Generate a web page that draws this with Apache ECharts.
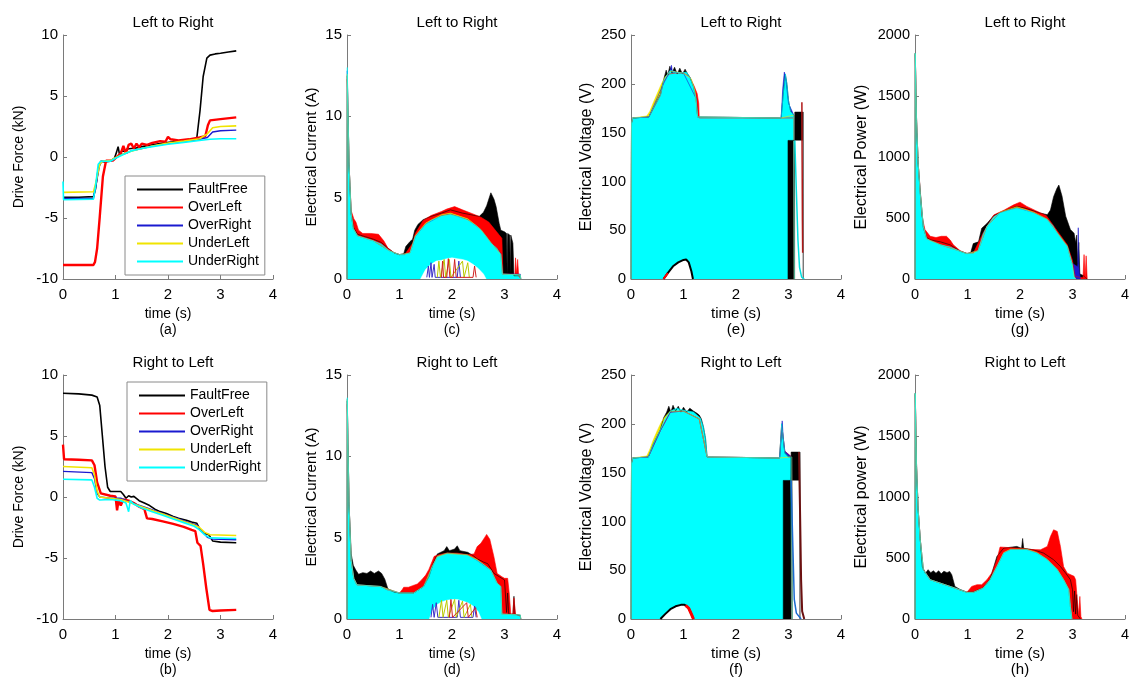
<!DOCTYPE html>
<html>
<head>
<meta charset="utf-8">
<script src="https://cdn.jsdelivr.net/npm/echarts@6/dist/echarts.min.js"></script>
<style>
html, body { margin: 0; padding: 0; background: #fff; }
#chart { width: 1134px; height: 682px; }
</style>
</head>
<body>
<div id="chart"></div>
<script>
// panel text (order: a c e g / b d f h)
const panelTitles = ['Left to Right', 'Left to Right', 'Left to Right', 'Left to Right',
                     'Right to Left', 'Right to Left', 'Right to Left', 'Right to Left'];
const subLabels = ['(a)', '(c)', '(e)', '(g)', '(b)', '(d)', '(f)', '(h)'];
const yNames = ['Drive Force (kN)', 'Electrical Current (A)', 'Electrical Voltage (V)', 'Electrical Power (W)',
                'Drive Force (kN)', 'Electrical Current (A)', 'Electrical Voltage (V)', 'Electrical power (W)'];
const yMin = [-10, 0, 0, 0, -10, 0, 0, 0];
const yMax = [10, 15, 250, 2000, 10, 15, 250, 2000];
const yStep = [5, 5, 50, 500, 5, 5, 50, 500];
const timeMax = 4;
const timeStep = 1;
const faultNames = ['FaultFree', 'OverLeft', 'OverRight', 'UnderLeft', 'UnderRight'];

// (a) drive force, left to right
const forceLR_FaultFree = [[0,-3.3],[0.3,-3.3],[0.58,-3.25],[0.62,-2.6],[0.67,-1.0],[0.72,-0.35],[0.8,-0.4],[0.9,-0.35],[0.98,-0.1],[1.02,0.4],[1.05,0.85],[1.08,0.1],[1.12,0.5],[1.18,0.45],[1.22,0.65],[1.3,0.7],[1.4,0.75],[1.5,0.85],[1.7,1.0],[1.9,1.15],[2.1,1.25],[2.3,1.35],[2.5,1.45],[2.55,1.6],[2.61,3.8],[2.67,6.6],[2.74,8.1],[2.8,8.35],[2.9,8.45],[3.0,8.5],[3.15,8.6],[3.3,8.7]];
const forceLR_OverLeft = [[0,-8.85],[0.3,-8.85],[0.58,-8.85],[0.61,-8.6],[0.65,-7.5],[0.7,-4.9],[0.76,-1.6],[0.82,-0.3],[0.95,-0.3],[1.0,-0.1],[1.1,0.3],[1.15,0.9],[1.2,0.3],[1.25,1.0],[1.3,1.1],[1.35,0.7],[1.4,1.1],[1.45,0.8],[1.5,1.1],[1.6,1.0],[1.7,1.15],[1.85,1.3],[1.95,1.25],[2.0,1.65],[2.05,1.45],[2.2,1.35],[2.4,1.45],[2.6,1.6],[2.71,1.7],[2.76,2.6],[2.8,3.0],[3.0,3.1],[3.3,3.25]];
const forceLR_OverRight = [[0,-3.4],[0.58,-3.4],[0.62,-2.5],[0.7,-0.6],[0.75,-0.35],[0.9,-0.35],[1.0,-0.1],[1.1,0.2],[1.2,0.3],[1.3,0.5],[1.5,0.7],[1.7,0.9],[2.0,1.1],[2.3,1.25],[2.6,1.45],[2.75,1.6],[2.85,2.05],[3.0,2.15],[3.3,2.2]];
const forceLR_UnderLeft = [[0,-2.9],[0.58,-2.85],[0.62,-2.2],[0.7,-0.6],[0.75,-0.35],[0.9,-0.3],[1.0,-0.05],[1.2,0.35],[1.4,0.6],[1.7,0.9],[2.0,1.15],[2.3,1.3],[2.6,1.5],[2.75,1.9],[2.85,2.4],[3.0,2.5],[3.3,2.55]];
const forceLR_UnderRight = [[0,-2.0],[0.01,-3.5],[0.58,-3.45],[0.62,-2.4],[0.67,-0.6],[0.72,-0.35],[0.9,-0.35],[1.0,-0.1],[1.1,0.1],[1.2,0.3],[1.3,0.5],[1.5,0.7],[1.7,0.85],[2.0,1.05],[2.3,1.2],[2.6,1.35],[2.8,1.45],[3.0,1.5],[3.3,1.5]];

// (b) drive force, right to left
const forceRL_FaultFree = [[0,8.5],[0.3,8.45],[0.55,8.35],[0.65,8.2],[0.7,7.5],[0.75,5.0],[0.8,2.5],[0.85,0.8],[0.9,0.45],[1.1,0.45],[1.15,0.2],[1.2,-0.1],[1.25,0.1],[1.3,0.0],[1.35,0.05],[1.45,-0.3],[1.55,-0.5],[1.65,-0.7],[1.75,-1.0],[1.85,-1.2],[1.97,-1.35],[2.1,-1.6],[2.2,-1.75],[2.35,-1.9],[2.45,-2.05],[2.55,-2.15],[2.61,-2.7],[2.7,-3.0],[2.78,-3.1],[2.85,-3.6],[3.0,-3.7],[3.3,-3.75]];
const forceRL_OverLeft = [[0,4.3],[0.02,3.1],[0.3,3.05],[0.55,3.0],[0.6,2.6],[0.65,1.2],[0.72,0.3],[0.9,0.1],[1.0,0.05],[1.03,-1.1],[1.06,-0.2],[1.1,-0.7],[1.15,-0.2],[1.25,-0.3],[1.35,-0.5],[1.45,-0.8],[1.55,-1.0],[1.6,-1.75],[1.7,-1.8],[1.9,-2.0],[2.1,-2.2],[2.3,-2.45],[2.45,-2.7],[2.52,-2.8],[2.56,-3.75],[2.62,-4.0],[2.67,-5.5],[2.73,-7.5],[2.79,-9.25],[2.85,-9.35],[3.0,-9.3],[3.3,-9.25]];
const forceRL_OverRight = [[0,2.1],[0.55,2.0],[0.6,1.5],[0.65,0.3],[0.7,0.0],[0.9,-0.1],[1.1,-0.1],[1.2,-0.3],[1.4,-0.6],[1.6,-0.9],[1.8,-1.2],[2.0,-1.5],[2.2,-1.8],[2.4,-2.1],[2.55,-2.3],[2.65,-2.8],[2.75,-3.3],[2.85,-3.45],[3.3,-3.5]];
const forceRL_UnderLeft = [[0,2.5],[0.55,2.4],[0.6,1.8],[0.65,0.5],[0.7,0.0],[0.9,-0.1],[1.1,-0.2],[1.3,-0.5],[1.5,-0.8],[1.7,-1.1],[1.9,-1.4],[2.1,-1.7],[2.3,-2.0],[2.5,-2.3],[2.6,-2.5],[2.7,-2.9],[2.8,-3.1],[3.3,-3.15]];
const forceRL_UnderRight = [[0,1.45],[0.55,1.4],[0.6,0.8],[0.65,-0.1],[0.7,-0.25],[0.9,-0.2],[1.1,-0.3],[1.2,-0.5],[1.25,-1.2],[1.28,-0.3],[1.35,-0.6],[1.5,-0.9],[1.7,-1.2],[1.9,-1.5],[2.1,-1.8],[2.3,-2.1],[2.5,-2.4],[2.6,-2.7],[2.7,-3.1],[2.8,-3.35],[3.3,-3.4]];

// (c) current, left to right
const currentLR_FaultFree = [[0,0],[0.005,12.5],[0.04,7],[0.08,4.0],[0.12,3.2],[0.2,2.75],[0.35,2.6],[0.5,2.45],[0.65,2.25],[0.8,1.85],[0.9,1.6],[1.0,1.5],[1.08,1.55],[1.12,2.0],[1.2,2.3],[1.25,2.45],[1.29,3.0],[1.35,3.35],[1.45,3.65],[1.6,3.85],[1.8,4.05],[1.97,4.25],[2.2,4.05],[2.36,3.95],[2.52,3.85],[2.6,4.1],[2.66,4.5],[2.74,5.3],[2.8,4.9],[2.84,4.45],[2.9,3.4],[2.93,3.0],[3.0,2.9],[3.04,2.8],[3.05,0.3],[3.06,2.8],[3.1,2.7],[3.11,0.3],[3.12,2.7],[3.16,2.2],[3.18,0.2],[3.3,0.2],[3.31,0]];
const currentLR_OverLeft = [[0,0],[0.005,12.3],[0.04,7],[0.08,4.2],[0.13,3.7],[0.17,3.5],[0.22,3.0],[0.3,2.8],[0.45,2.8],[0.6,2.75],[0.7,2.35],[0.78,1.9],[0.9,1.6],[1.0,1.5],[1.1,1.5],[1.25,2.2],[1.3,2.8],[1.45,3.6],[1.6,3.9],[1.8,4.15],[1.9,4.3],[2.05,4.45],[2.2,4.25],[2.4,4.0],[2.55,3.8],[2.7,3.5],[2.85,2.9],[2.95,2.5],[2.97,0.3],[3.2,0.3],[3.21,1.3],[3.23,0.3],[3.25,1.2],[3.27,0.2],[3.3,0.2],[3.31,0]];
const currentLR_OverRight = [[0,0],[0.005,12.8],[0.04,7],[0.08,4.0],[0.12,3.1],[0.2,2.65],[0.5,2.35],[0.8,1.75],[1.0,1.5],[1.2,1.6],[1.3,2.6],[1.5,3.4],[1.8,3.9],[1.97,4.0],[2.3,3.65],[2.55,3.05],[2.74,2.25],[2.93,1.55],[2.96,0.3],[3.3,0.3],[3.31,0]];
const currentLR_UnderLeft = [[0,0],[0.005,12.6],[0.04,7],[0.08,4.0],[0.12,3.1],[0.2,2.65],[0.5,2.35],[0.8,1.75],[1.0,1.5],[1.2,1.6],[1.3,2.65],[1.5,3.45],[1.8,3.95],[1.97,4.05],[2.3,3.7],[2.55,3.05],[2.74,2.25],[2.93,1.5],[2.96,0.3],[3.3,0.25],[3.31,0]];
const currentLR_UnderRight = [[0,0],[0.005,13.0],[0.04,7],[0.08,4.0],[0.12,3.1],[0.2,2.65],[0.35,2.5],[0.5,2.35],[0.65,2.15],[0.8,1.75],[0.9,1.6],[1.0,1.5],[1.1,1.5],[1.2,1.6],[1.3,2.6],[1.4,3.0],[1.5,3.35],[1.6,3.6],[1.8,3.85],[1.97,3.95],[2.15,3.8],[2.3,3.6],[2.45,3.3],[2.55,3.0],[2.65,2.6],[2.74,2.2],[2.85,1.9],[2.93,1.5],[2.96,0.3],[3.3,0.25],[3.31,0]];
const currentLR_gap = [[1.4,0],[1.45,0.3],[1.5,0.6],[1.6,0.9],[1.7,1.1],[1.8,1.15],[1.9,1.25],[2.0,1.3],[2.1,1.25],[2.2,1.2],[2.3,1.1],[2.4,0.9],[2.5,0.65],[2.6,0.3],[2.65,0]];
const currentLR_spikesBlue = [[1.52,0.1],[1.55,0.8],[1.57,0.1],[1.6,1.0],[1.62,0.1],[1.66,0.9],[1.68,0.1],[2.1,0.1],[2.13,1.1],[2.16,0.1]];
const currentLR_spikesYellow = [[1.72,0.1],[1.75,1.1],[1.78,0.1],[1.85,1.2],[1.88,0.1],[1.95,1.2],[1.98,0.1],[2.2,1.1],[2.23,0.1],[2.3,1.0],[2.33,0.1]];
const currentLR_spikesRed = [[1.8,0.1],[1.82,1.1],[1.84,0.1],[1.9,0.1],[1.93,1.25],[1.96,0.1],[2.02,0.1],[2.05,1.2],[2.08,0.1],[2.4,0.1],[2.43,0.8],[2.46,0.1]];

// (d) current, right to left
const currentRL_FaultFree = [[0,0],[0.005,13.4],[0.04,7],[0.08,4.0],[0.12,3.3],[0.17,3.0],[0.22,2.75],[0.3,2.85],[0.38,2.8],[0.45,2.95],[0.52,2.8],[0.6,2.95],[0.66,2.8],[0.72,2.45],[0.78,1.85],[0.9,1.65],[1.0,1.6],[1.27,1.6],[1.46,2.0],[1.56,2.6],[1.64,3.4],[1.72,4.0],[1.85,4.2],[1.9,4.45],[1.95,4.2],[2.05,4.3],[2.1,4.5],[2.15,4.2],[2.3,4.1],[2.4,3.9],[2.48,3.7],[2.6,3.5],[2.68,3.4],[2.8,2.8],[2.9,2.6],[3.0,2.4],[3.04,0.4],[3.06,1.6],[3.08,0.3],[3.16,0.3],[3.18,1.4],[3.2,0.3],[3.3,0.2],[3.31,0]];
const currentRL_OverLeft = [[0,0],[0.005,13.2],[0.04,7],[0.08,3.6],[0.13,2.5],[0.19,2.1],[0.4,2.05],[0.64,2.0],[0.76,1.8],[1.0,1.6],[1.05,1.8],[1.08,1.95],[1.17,1.95],[1.25,2.05],[1.34,2.15],[1.42,2.4],[1.5,2.7],[1.56,3.05],[1.66,3.85],[1.75,3.95],[1.9,4.05],[2.1,4.05],[2.3,3.95],[2.42,4.0],[2.48,4.45],[2.55,4.65],[2.62,5.0],[2.66,5.2],[2.72,4.9],[2.8,3.8],[2.86,2.8],[2.95,2.6],[3.0,2.5],[3.06,2.5],[3.09,1.6],[3.12,0.3],[3.16,0.3],[3.18,1.3],[3.21,0.3],[3.3,0.2],[3.31,0]];
const currentRL_OverRight = [[0,0],[0.005,13.5],[0.04,7],[0.08,3.6],[0.13,2.5],[0.19,2.1],[0.64,2.0],[1.0,1.6],[1.27,1.6],[1.46,2.0],[1.62,3.2],[1.72,3.85],[1.91,4.05],[2.29,3.95],[2.48,3.6],[2.74,3.0],[2.86,2.2],[2.93,2.0],[2.95,0.3],[3.3,0.25],[3.31,0]];
const currentRL_UnderLeft = [[0,0],[0.005,13.5],[0.04,7],[0.08,3.6],[0.13,2.5],[0.19,2.1],[0.64,2.0],[1.0,1.6],[1.27,1.6],[1.46,2.0],[1.62,3.2],[1.72,3.85],[1.91,4.05],[2.29,3.95],[2.48,3.65],[2.74,3.0],[2.86,2.2],[2.93,2.0],[2.95,0.3],[3.3,0.25],[3.31,0]];
const currentRL_UnderRight = [[0,0],[0.005,13.6],[0.04,7],[0.08,3.6],[0.13,2.5],[0.19,2.1],[0.4,2.05],[0.64,2.0],[0.76,1.8],[1.0,1.6],[1.27,1.6],[1.46,2.0],[1.55,2.5],[1.62,3.2],[1.72,3.8],[1.91,4.0],[2.1,3.95],[2.29,3.9],[2.48,3.6],[2.6,3.35],[2.74,3.0],[2.86,2.2],[2.93,2.0],[2.95,0.3],[3.3,0.25],[3.31,0]];
const currentRL_gap = [[1.57,0],[1.62,0.5],[1.7,0.85],[1.8,1.05],[1.9,1.15],[2.0,1.2],[2.1,1.2],[2.2,1.1],[2.3,1.0],[2.4,0.8],[2.5,0.45],[2.56,0]];
const currentRL_spikesBlue = [[1.6,0.1],[1.63,0.9],[1.66,0.1],[1.7,1.0],[1.73,0.1],[2.1,0.1],[2.13,1.15],[2.16,0.1],[2.4,0.1],[2.43,0.8],[2.46,0.1]];
const currentRL_spikesYellow = [[1.75,0.1],[1.8,1.15],[1.83,0.1],[1.9,1.15],[1.93,0.1],[2.05,1.2],[2.08,0.1],[2.2,1.1],[2.23,0.1],[2.35,0.9],[2.38,0.1]];
const currentRL_spikesRed = [[1.95,0.1],[1.98,1.2],[2.01,0.1],[2.28,1.0],[2.31,0.1],[2.45,0.7],[2.48,0.1]];

// (e) voltage, left to right
const voltageLR_FaultFree = [[0,0],[0.01,160],[0.03,165],[0.34,166],[0.45,178],[0.56,189],[0.62,204],[0.67,214],[0.7,209],[0.74,218],[0.78,211],[0.83,217],[0.88,210],[0.93,216],[0.98,210],[1.03,215],[1.08,210],[1.12,207],[1.19,197],[1.24,185],[1.27,166],[1.3,165],[2.86,165],[2.9,190],[2.94,210],[2.97,200],[3.0,183],[3.04,172],[3.1,168],[3.11,0]];
const voltageLR_OverLeft = [[0,0],[0.01,160],[0.03,165],[0.34,166],[0.45,177],[0.56,188],[0.62,202],[0.72,210],[0.85,211],[1.0,211],[1.12,207],[1.2,198],[1.26,190],[1.29,180],[1.3,165],[3.1,165],[3.11,0]];
const voltageLR_OverRight = [[0,0],[0.01,160],[0.03,165],[0.34,166],[0.6,198],[0.75,214],[0.77,219],[0.79,212],[1.0,211],[1.24,185],[1.27,166],[2.86,165],[2.89,195],[2.92,212],[2.94,209],[3.0,180],[3.1,168],[3.11,0]];
const voltageLR_UnderLeft = [[0,0],[0.01,160],[0.03,165],[0.3,167],[0.36,172],[0.42,180],[0.5,190],[0.58,200],[0.65,207],[0.75,213],[1.0,211],[1.15,205],[1.22,192],[1.27,166],[2.86,165],[3.1,168],[3.11,0]];
const voltageLR_UnderRight = [[0,0],[0.01,160],[0.03,165],[0.34,166],[0.45,178],[0.56,188],[0.62,203],[0.7,210],[0.75,214],[0.85,212],[0.95,211],[1.06,212],[1.12,207],[1.19,197],[1.24,185],[1.27,166],[1.3,165],[2.86,165],[2.9,190],[2.94,210],[2.97,200],[3.0,183],[3.04,172],[3.1,168],[3.11,0]];
const voltageLR_faultBlock = [[2.99,0],[2.99,142],[3.12,142],[3.12,171],[3.28,171],[3.28,0]];
const voltageLR_blockGap = [[3.125,142],[3.275,142]];
const voltageLR_archGap = [[0.62,0],[0.7,6],[0.8,13],[0.9,17],[1.0,19.5],[1.05,20],[1.1,17],[1.15,8],[1.18,0]];
const voltageLR_archRed = [[0.62,0],[0.66,3],[0.7,6]];
const voltageLR_tailOverLeft = [[3.255,181],[3.26,120],[3.265,60],[3.27,27]];
const voltageLR_tailUnderRight = [[3.12,142],[3.15,90],[3.18,40],[3.21,12],[3.25,2],[3.3,0]];

// (f) voltage, right to left
const voltageRL_FaultFree = [[0,0],[0.01,160],[0.03,165],[0.33,166],[0.43,180],[0.56,194],[0.62,206],[0.68,212],[0.72,218],[0.76,212],[0.8,219],[0.85,213],[0.9,218],[0.95,212],[1.0,217],[1.06,212],[1.12,216],[1.19,213],[1.25,211],[1.3,209],[1.34,205],[1.38,197],[1.42,185],[1.45,166],[1.47,165],[2.83,165],[2.87,200],[2.9,185],[2.93,170],[3.0,166],[3.06,166],[3.07,0]];
const voltageRL_OverLeft = [[0,0],[0.01,160],[0.03,165],[0.33,166],[0.56,193],[0.75,212],[1.0,213],[1.3,205],[1.45,166],[2.83,165],[2.87,198],[2.93,172],[3.06,166],[3.07,0]];
const voltageRL_OverRight = [[0,0],[0.01,160],[0.03,165],[0.33,166],[0.56,193],[0.75,212],[1.0,213],[1.3,205],[1.45,166],[2.83,165],[2.86,185],[2.88,203],[2.9,186],[2.93,172],[3.06,166],[3.07,0]];
const voltageRL_UnderLeft = [[0,0],[0.01,160],[0.03,165],[0.3,167],[0.36,174],[0.42,183],[0.5,193],[0.58,202],[0.66,208],[0.75,213],[1.0,213],[1.3,205],[1.45,166],[2.83,165],[3.06,166],[3.07,0]];
const voltageRL_UnderRight = [[0,0],[0.01,160],[0.03,165],[0.33,166],[0.43,180],[0.56,194],[0.65,205],[0.75,213],[0.87,216],[1.0,214],[1.19,212],[1.32,206],[1.38,197],[1.42,185],[1.45,166],[1.47,165],[2.83,165],[2.87,200],[2.9,185],[2.93,170],[3.0,166],[3.06,166],[3.07,0]];
const voltageRL_faultBlock = [[2.9,0],[2.9,142],[3.03,142],[3.03,0],[3.05,0],[3.05,171],[3.22,171],[3.22,0]];
const voltageRL_blockGap = [[3.055,142],[3.215,142]];
const voltageRL_archGap = [[0.56,0],[0.65,5],[0.75,10],[0.85,13],[0.95,14.5],[1.02,14.5],[1.1,11],[1.15,5],[1.19,0]];
const voltageRL_archRed = [[1.04,14],[1.1,11],[1.15,5],[1.19,0]];
const voltageRL_tailOverRight = [[3.05,142],[3.08,80],[3.11,20],[3.15,6],[3.24,0]];
const voltageRL_tailOverLeft = [[3.2,171],[3.22,110],[3.24,40],[3.26,8],[3.3,0]];

// (g) power, left to right
const powerLR_FaultFree = [[0,0],[0.005,1850],[0.03,1300],[0.06,950],[0.1,720],[0.16,420],[0.22,340],[0.3,320],[0.48,305],[0.67,280],[0.76,255],[0.86,228],[0.99,210],[1.06,215],[1.11,290],[1.21,305],[1.27,415],[1.37,455],[1.5,520],[1.7,560],[1.94,595],[2.1,580],[2.25,560],[2.39,540],[2.52,527],[2.58,565],[2.64,675],[2.7,740],[2.74,770],[2.8,680],[2.87,515],[2.96,405],[3.03,375],[3.06,300],[3.08,360],[3.1,120],[3.12,300],[3.14,40],[3.2,30],[3.28,0]];
const powerLR_OverLeft = [[0,0],[0.005,1840],[0.03,1300],[0.06,950],[0.1,720],[0.13,520],[0.19,405],[0.29,350],[0.4,340],[0.5,350],[0.6,350],[0.67,320],[0.73,280],[0.86,232],[0.99,208],[1.11,212],[1.3,380],[1.5,525],[1.7,565],[1.88,608],[2.0,630],[2.13,595],[2.3,560],[2.5,520],[2.7,400],[2.9,280],[3.0,150],[3.05,20],[3.2,10],[3.22,200],[3.24,10],[3.26,190],[3.28,0]];
const powerLR_OverRight = [[0,0],[0.005,1850],[0.03,1300],[0.06,950],[0.1,700],[0.16,430],[0.22,330],[0.48,282],[0.86,228],[0.99,208],[1.2,232],[1.37,432],[1.62,545],[1.94,585],[2.26,545],[2.52,490],[2.71,380],[2.9,270],[2.99,130],[3.1,100],[3.11,420],[3.12,100],[3.15,0]];
const powerLR_UnderLeft = [[0,0],[0.005,1850],[0.03,1300],[0.06,950],[0.1,700],[0.16,430],[0.22,330],[0.48,282],[0.86,228],[0.99,208],[1.2,232],[1.37,432],[1.62,548],[1.94,592],[2.26,548],[2.52,490],[2.71,380],[2.9,270],[2.99,130],[3.03,20],[3.06,0]];
const powerLR_UnderRight = [[0,0],[0.005,1850],[0.03,1300],[0.06,950],[0.1,700],[0.16,430],[0.22,330],[0.3,310],[0.48,280],[0.67,262],[0.86,226],[0.99,207],[1.11,210],[1.2,230],[1.3,370],[1.37,430],[1.5,510],[1.62,540],[1.8,565],[1.94,580],[2.1,565],[2.26,540],[2.4,510],[2.52,486],[2.62,440],[2.71,376],[2.8,320],[2.9,267],[2.99,130],[3.03,20],[3.06,0]];

// (h) power, right to left
const powerRL_FaultFree = [[0,0],[0.005,1850],[0.03,1250],[0.06,900],[0.1,660],[0.14,430],[0.2,376],[0.25,404],[0.3,380],[0.35,395],[0.4,375],[0.45,395],[0.5,370],[0.55,392],[0.61,380],[0.66,390],[0.7,363],[0.76,267],[0.86,242],[0.99,220],[1.11,220],[1.3,256],[1.43,325],[1.56,513],[1.69,581],[1.94,595],[2.03,580],[2.05,660],[2.07,580],[2.26,567],[2.45,540],[2.64,486],[2.77,430],[2.87,376],[2.96,322],[3.0,240],[3.02,60],[3.04,230],[3.06,40],[3.08,200],[3.1,30],[3.15,0]];
const powerRL_OverLeft = [[0,0],[0.005,1840],[0.03,1250],[0.06,900],[0.1,650],[0.16,404],[0.29,322],[0.67,267],[0.99,220],[1.08,267],[1.18,281],[1.27,281],[1.37,322],[1.46,376],[1.56,486],[1.62,590],[1.8,585],[2.0,580],[2.2,570],[2.39,567],[2.52,595],[2.58,676],[2.64,731],[2.71,718],[2.77,595],[2.83,430],[2.9,376],[3.03,350],[3.06,322],[3.09,160],[3.12,30],[3.14,185],[3.16,20],[3.18,0]];
const powerRL_OverRight = [[0,0],[0.005,1850],[0.03,1250],[0.06,900],[0.1,650],[0.16,404],[0.29,322],[0.67,267],[0.99,218],[1.11,218],[1.3,254],[1.43,322],[1.56,430],[1.69,542],[1.82,570],[2.13,570],[2.32,542],[2.52,488],[2.71,406],[2.83,324],[2.93,242],[2.96,104],[2.99,0]];
const powerRL_UnderLeft = [[0,0],[0.005,1850],[0.03,1250],[0.06,900],[0.1,650],[0.16,404],[0.29,322],[0.67,267],[0.99,218],[1.11,218],[1.3,254],[1.43,322],[1.56,430],[1.69,545],[1.82,572],[2.13,572],[2.32,545],[2.52,488],[2.71,406],[2.83,324],[2.93,242],[2.96,104],[2.99,0]];
const powerRL_UnderRight = [[0,0],[0.005,1850],[0.03,1250],[0.06,900],[0.1,650],[0.16,404],[0.29,322],[0.48,295],[0.67,267],[0.86,240],[0.99,218],[1.11,218],[1.3,254],[1.43,322],[1.56,430],[1.69,540],[1.82,567],[2.13,567],[2.32,540],[2.52,486],[2.71,404],[2.83,322],[2.93,240],[2.96,104],[2.99,0]];

const colors = { FaultFree: '#000000', OverLeft: '#ff0000', OverRight: '#1a1ad0', UnderLeft: '#f0e400', UnderRight: '#00ffff' };

const chart = echarts.init(document.getElementById('chart'));

const colLeft = [63, 347, 631, 915];
const rowTop = [35, 375];
const plotW = 210, plotH = 244;
const yNameSize = [14, 15, 16, 16];
const xNameSize = [14, 14, 15, 15];
const yNameGap = [37, 28, 36, 45];
const tickSize = [15, 15, 15, 14.5];
const font = 'Liberation Sans, Arial, Helvetica, sans-serif';

const grids = [], xAxes = [], yAxes = [], titles = [], series = [];

for (let i = 0; i < 8; i++) {
    const col = i % 4, row = Math.floor(i / 4);
    grids.push({ left: colLeft[col], top: rowTop[row], width: plotW, height: plotH });
    xAxes.push({
        type: 'value', gridIndex: i, min: 0, max: timeMax, interval: timeStep,
        name: 'time (s)\n' + subLabels[i], nameLocation: 'middle', nameGap: 27,
        nameTextStyle: { fontSize: xNameSize[col], lineHeight: 16, color: '#000', fontFamily: font },
        axisLine: { show: true, onZero: false, lineStyle: { color: '#7a7a7a', width: 1 } },
        axisTick: { show: true, inside: true, length: 4, lineStyle: { color: '#7a7a7a' } },
        axisLabel: { fontSize: tickSize[col], color: '#000', margin: 8, fontFamily: font },
        splitLine: { show: false }
    });
    yAxes.push({
        type: 'value', gridIndex: i, min: yMin[i], max: yMax[i], interval: yStep[i],
        name: yNames[i], nameLocation: 'middle', nameGap: yNameGap[col],
        nameTextStyle: { fontSize: yNameSize[col], color: '#000', fontFamily: font },
        axisLine: { show: true, onZero: false, lineStyle: { color: '#7a7a7a', width: 1 } },
        axisTick: { show: true, inside: true, length: 4, lineStyle: { color: '#7a7a7a' } },
        axisLabel: { fontSize: tickSize[col], color: '#000', margin: 5, fontFamily: font,
                     formatter: function (v) { return String(v); } },
        splitLine: { show: false }
    });
    titles.push({
        text: panelTitles[i], left: colLeft[col] + plotW / 2, top: rowTop[row] - 25, textAlign: 'center',
        textStyle: { fontSize: 15, fontWeight: 'normal', color: '#000', fontFamily: font }
    });
}

function lineS(name, data, idx, color, width) {
    return { type: 'line', name: name, data: data, xAxisIndex: idx, yAxisIndex: idx, symbol: 'none',
             silent: true, lineStyle: { color: color, width: width }, itemStyle: { color: color } };
}
function areaS(name, data, idx, color) {
    const s = lineS(name, data, idx, color, 0.6);
    s.areaStyle = { color: color, opacity: 1 };
    return s;
}
function gapS(name, data, idx, edge, edgeWidth) {
    const s = lineS(name, data, idx, edge, edgeWidth);
    s.areaStyle = { color: '#ffffff', opacity: 1 };
    return s;
}

// (a) and (b): lines
const forceSets = [
    [0, [forceLR_FaultFree, forceLR_OverLeft, forceLR_OverRight, forceLR_UnderLeft, forceLR_UnderRight]],
    [4, [forceRL_FaultFree, forceRL_OverLeft, forceRL_OverRight, forceRL_UnderLeft, forceRL_UnderRight]]
];
const forceWidths = [1.6, 2.4, 1.4, 1.6, 1.6];
forceSets.forEach(function (fs) {
    fs[1].forEach(function (d, k) {
        series.push(lineS(faultNames[k], d, fs[0], colors[faultNames[k]], forceWidths[k]));
    });
});

// filled panels
const areaSets = [
    [1, [currentLR_FaultFree, currentLR_OverLeft, currentLR_OverRight, currentLR_UnderLeft, currentLR_UnderRight]],
    [5, [currentRL_FaultFree, currentRL_OverLeft, currentRL_OverRight, currentRL_UnderLeft, currentRL_UnderRight]],
    [2, [voltageLR_FaultFree, voltageLR_OverLeft, voltageLR_OverRight, voltageLR_UnderLeft, voltageLR_UnderRight]],
    [6, [voltageRL_FaultFree, voltageRL_OverLeft, voltageRL_OverRight, voltageRL_UnderLeft, voltageRL_UnderRight]],
    [3, [powerLR_FaultFree, powerLR_OverLeft, powerLR_OverRight, powerLR_UnderLeft, powerLR_UnderRight]],
    [7, [powerRL_FaultFree, powerRL_OverLeft, powerRL_OverRight, powerRL_UnderLeft, powerRL_UnderRight]]
];
areaSets.forEach(function (as) {
    as[1].forEach(function (d, k) {
        series.push(areaS(faultNames[k], d, as[0], colors[faultNames[k]]));
    });
});

// current: gaps in the PWM envelope with coloured spikes
series.push(gapS('gap', currentLR_gap, 1, '#ffffff', 0.5));
series.push(lineS('spikeB', currentLR_spikesBlue, 1, '#3a2fc8', 1));
series.push(lineS('spikeY', currentLR_spikesYellow, 1, '#b8c800', 1));
series.push(lineS('spikeR', currentLR_spikesRed, 1, '#d02020', 1));
series.push(gapS('gap', currentRL_gap, 5, '#ffffff', 0.5));
series.push(lineS('spikeB', currentRL_spikesBlue, 5, '#3a2fc8', 1));
series.push(lineS('spikeY', currentRL_spikesYellow, 5, '#b8c800', 1));
series.push(lineS('spikeR', currentRL_spikesRed, 5, '#d02020', 1));

// voltage: fault-free block, gaps, tails
series.push(areaS('FaultFree-block', voltageLR_faultBlock, 2, '#000000'));
series.push(gapS('gap', voltageLR_blockGap, 2, '#ffffff', 0));
series.push(gapS('gap', voltageLR_archGap, 2, '#000000', 2));
series.push(lineS('OverLeft-arch', voltageLR_archRed, 2, '#ff0000', 2));
series.push(lineS('OverLeft-tail', voltageLR_tailOverLeft, 2, '#b01818', 1.5));
series.push(lineS('UnderRight-tail', voltageLR_tailUnderRight, 2, '#00e0e0', 1.5));

series.push(areaS('FaultFree-block', voltageRL_faultBlock, 6, '#000000'));
series.push(gapS('gap', voltageRL_blockGap, 6, '#ffffff', 0));
series.push(gapS('gap', voltageRL_archGap, 6, '#000000', 2));
series.push(lineS('OverLeft-arch', voltageRL_archRed, 6, '#ff0000', 3));
series.push(lineS('OverRight-tail', voltageRL_tailOverRight, 6, '#1a6ad0', 1.5));
series.push(lineS('OverLeft-tail', voltageRL_tailOverLeft, 6, '#6b1010', 2));

const legendBase = {
    orient: 'vertical', data: faultNames, icon: 'rect', itemWidth: 46, itemHeight: 2, itemGap: 3,
    padding: [6, 6, 6, 12], borderColor: '#8a8a8a', borderWidth: 1, backgroundColor: '#ffffff',
    textStyle: { fontSize: 14, lineHeight: 15, color: '#000', fontFamily: font }, selectedMode: false
};

chart.setOption({
    animation: false,
    backgroundColor: '#ffffff',
    textStyle: { fontFamily: font },
    title: titles,
    grid: grids,
    xAxis: xAxes,
    yAxis: yAxes,
    legend: [
        Object.assign({}, legendBase, { left: 125, top: 176 }),
        Object.assign({}, legendBase, { left: 127, top: 382 })
    ],
    series: series
});
</script>
</body>
</html>
